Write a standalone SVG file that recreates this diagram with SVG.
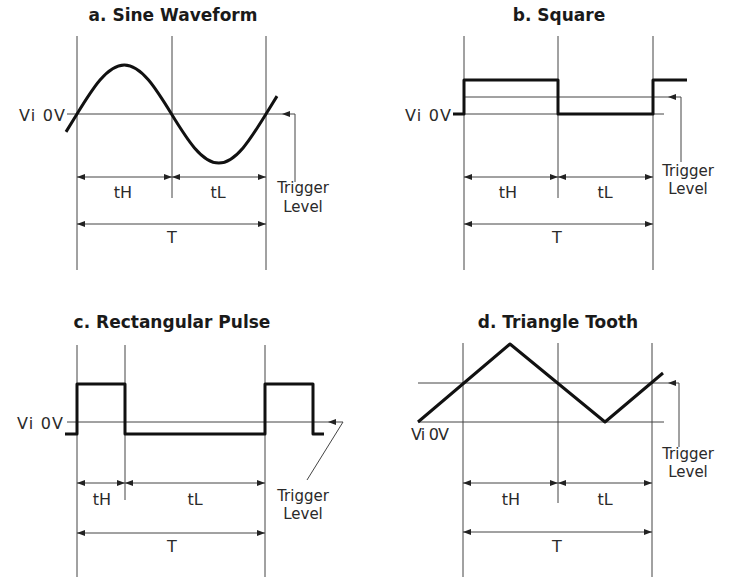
<svg xmlns="http://www.w3.org/2000/svg" width="732" height="581" viewBox="0 0 732 581">
<defs>
<marker id="arr" viewBox="0 0 8 6" refX="8" refY="3" markerWidth="8" markerHeight="6" markerUnits="userSpaceOnUse" orient="auto-start-reverse">
<path d="M0,0 L8,3 L0,6 z" fill="#222"/>
</marker>
<style>
.thin{stroke:#444;stroke-width:1;fill:none}
.wave{stroke:#111;stroke-width:3;fill:none;stroke-linejoin:round}
.dim{stroke:#444;stroke-width:1;fill:none;marker-start:url(#arr);marker-end:url(#arr)}
.ptr{stroke:#444;stroke-width:1;fill:none;marker-end:url(#arr)}
.title{font-family:"DejaVu Sans","Liberation Sans",sans-serif;font-weight:bold;font-size:17px;fill:#1a1a1a;text-anchor:middle}
.lbl{font-family:"DejaVu Sans","Liberation Sans",sans-serif;font-size:16px;fill:#2a2a2a;text-anchor:middle}
.trg{font-family:"DejaVu Sans","Liberation Sans",sans-serif;font-size:15px;fill:#2a2a2a;text-anchor:middle}
.vi{font-family:"DejaVu Sans","Liberation Sans",sans-serif;font-size:16px;fill:#2a2a2a}
</style>
</defs>
<rect width="732" height="581" fill="#ffffff"/>

<g id="panel-a">
<text class="title" x="173" y="21">a. Sine Waveform</text>
<line class="thin" x1="77" y1="36" x2="77" y2="270"/>
<line class="thin" x1="172" y1="36" x2="172" y2="198"/>
<line class="thin" x1="266" y1="36" x2="266" y2="270"/>
<line class="thin" x1="67" y1="114" x2="282" y2="114"/>
<path class="wave" d="M66,131.9 L77,114 C92.4,88.9 107.2,65 124.3,65 C141.4,65 156.1,88.9 171.5,114 C186.9,139.1 201.7,163 218.8,163 C235.9,163 250.6,139.1 266,114 L277,96.1"/>
<text class="vi" x="65" y="121" text-anchor="end" textLength="46" lengthAdjust="spacing">Vi 0V</text>
<text class="lbl" x="123" y="198">tH</text>
<text class="lbl" x="218" y="198">tL</text>
<text class="lbl" x="172" y="243">T</text>
<text class="trg" x="303" y="193">Trigger</text>
<text class="trg" x="303" y="212">Level</text>
</g>

<g id="panel-b">
<text class="title" x="559" y="21">b. Square</text>
<line class="thin" x1="464" y1="36" x2="464" y2="270"/>
<line class="thin" x1="558" y1="36" x2="558" y2="198"/>
<line class="thin" x1="653" y1="36" x2="653" y2="270"/>
<line class="thin" x1="454" y1="114" x2="664" y2="114"/>
<line class="thin" x1="463" y1="97" x2="668" y2="97"/>
<path class="wave" d="M453,114 H464 V80 H558 V114 H653 V80 H687"/>
<text class="vi" x="451" y="121" text-anchor="end" textLength="46" lengthAdjust="spacing">Vi 0V</text>
<text class="lbl" x="508" y="198">tH</text>
<text class="lbl" x="605" y="198">tL</text>
<text class="lbl" x="557" y="243">T</text>
<text class="trg" x="688" y="176">Trigger</text>
<text class="trg" x="688" y="194">Level</text>
</g>

<g id="panel-c">
<text class="title" x="172" y="328">c. Rectangular Pulse</text>
<line class="thin" x1="77" y1="345" x2="77" y2="577"/>
<line class="thin" x1="125" y1="345" x2="125" y2="500"/>
<line class="thin" x1="265" y1="345" x2="265" y2="577"/>
<line class="thin" x1="67" y1="422" x2="328" y2="422"/>
<path class="wave" d="M65,434 H77 V384 H125 V434 H265 V384 H313 V434 H324"/>
<text class="vi" x="63" y="429" text-anchor="end" textLength="46" lengthAdjust="spacing">Vi 0V</text>
<text class="lbl" x="102" y="505">tH</text>
<text class="lbl" x="195" y="505">tL</text>
<text class="lbl" x="172" y="552">T</text>
<text class="trg" x="303" y="501">Trigger</text>
<text class="trg" x="303" y="519">Level</text>
</g>

<g id="panel-d">
<text class="title" x="558" y="328">d. Triangle Tooth</text>
<line class="thin" x1="463" y1="343" x2="463" y2="577"/>
<line class="thin" x1="558" y1="343" x2="558" y2="503"/>
<line class="thin" x1="652" y1="343" x2="652" y2="577"/>
<line class="thin" x1="418" y1="383" x2="668" y2="383"/>
<line class="thin" x1="418" y1="422" x2="664" y2="422"/>
<path class="wave" d="M418,422 L510,344 L605,422 L663,373"/>
<text class="vi" x="411" y="440" font-size="14" textLength="38" lengthAdjust="spacing">Vi 0V</text>
<text class="lbl" x="511" y="505">tH</text>
<text class="lbl" x="605" y="505">tL</text>
<text class="lbl" x="557" y="552">T</text>
<text class="trg" x="688" y="459">Trigger</text>
<text class="trg" x="688" y="477">Level</text>
</g>

<g id="connectors">
<path class="dim" d="M77,177 H172"/>
<path class="dim" d="M172,177 H266"/>
<path class="dim" d="M77,224 H266"/>
<path class="ptr" d="M295,182 V114 H282"/>

<path class="dim" d="M464,177 H558"/>
<path class="dim" d="M558,177 H653"/>
<path class="dim" d="M464,224 H653"/>
<path class="ptr" d="M681,162 V97 H668"/>

<path class="dim" d="M77,483 H125"/>
<path class="dim" d="M125,483 H265"/>
<path class="dim" d="M77,533 H265"/>
<path class="ptr" d="M343,422 H328"/>
<line class="thin" x1="343" y1="422" x2="307" y2="480"/>

<path class="dim" d="M463,483 H558"/>
<path class="dim" d="M558,483 H652"/>
<path class="dim" d="M463,532 H652"/>
<path class="ptr" d="M679,447 V383 H668"/>
</g>
</svg>
